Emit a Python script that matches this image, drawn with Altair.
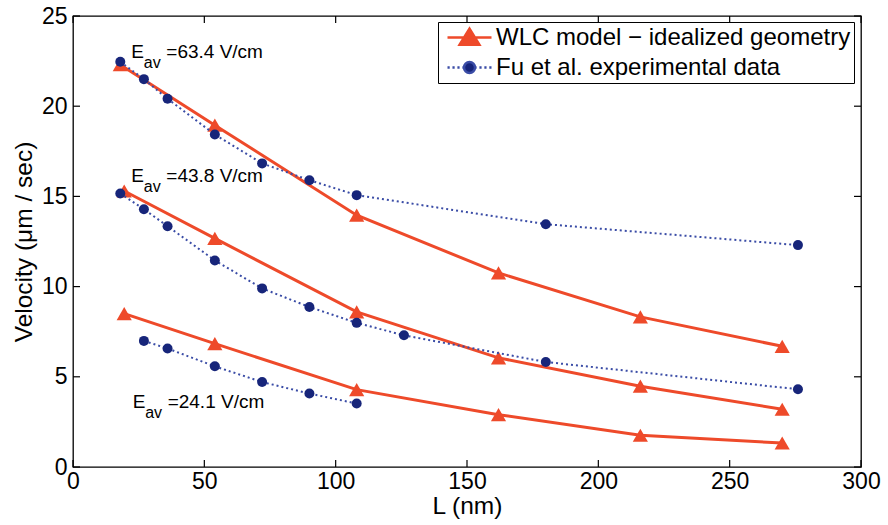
import altair as alt
import pandas as pd

# ---------------- data ----------------
series_model = "WLC model − idealized geometry"
series_exp = "Fu et al. experimental data"

# WLC model (red triangles)
L_model_634 = [18, 54, 108, 162, 216, 270]
v_model_634 = [22.3, 18.95, 13.96, 10.76, 8.32, 6.69]
L_model_438 = [19.5, 54, 108, 162, 216, 270]
v_model_438 = [15.3, 12.67, 8.6, 6.05, 4.48, 3.2]
L_model_241 = [19.5, 54, 108, 162, 216, 270]
v_model_241 = [8.5, 6.84, 4.29, 2.9, 1.76, 1.33]

# Fu et al. experimental data (blue dots)
L_exp_634 = [18, 27, 36, 54, 72, 90, 108, 180, 276]
v_exp_634 = [22.46, 21.5, 20.41, 18.43, 16.83, 15.9, 15.07, 13.46, 12.3]
L_exp_438 = [18, 27, 36, 54, 72, 90, 108, 126, 180, 276]
v_exp_438 = [15.16, 14.29, 13.35, 11.45, 9.9, 8.87, 7.99, 7.3, 5.82, 4.31]
L_exp_241 = [27, 36, 54, 72, 90, 108]
v_exp_241 = [6.99, 6.57, 5.58, 4.71, 4.07, 3.52]

# annotations
ann_L = [22.2, 22.2, 22.7]
ann_v = [22.65, 15.81, 3.27]
ann_text = ["=63.4 V/cm", "=43.8 V/cm", "=24.1 V/cm"]

x_ticks = [0, 50, 100, 150, 200, 250, 300]
y_ticks = [0, 5, 10, 15, 20, 25]

RED = "#ee4a2a"
NAVY = "#17257a"
DOTBLUE = "#3a4ca6"

def frame(Ls, vs, group):
    return pd.DataFrame({"L": Ls, "v": vs, "group": group})

model = pd.concat([
    frame(L_model_634, v_model_634, "63.4"),
    frame(L_model_438, v_model_438, "43.8"),
    frame(L_model_241, v_model_241, "24.1"),
])
exp = pd.concat([
    frame(L_exp_634, v_exp_634, "63.4"),
    frame(L_exp_438, v_exp_438, "43.8"),
    frame(L_exp_241, v_exp_241, "24.1"),
])
ann = pd.DataFrame({"L": ann_L, "v": ann_v, "text": ann_text,
                    "E": ["E"] * 3, "sub": ["av"] * 3})
legend_df = pd.DataFrame({"L": [0, 0], "v": [0, 0], "series": [series_model, series_exp]})
xt = pd.DataFrame({"L": x_ticks})
yt = pd.DataFrame({"v": y_ticks})

W, H = 788, 451
xscale = alt.Scale(domain=[0, 300], nice=False, zero=False)
yscale = alt.Scale(domain=[0, 25], nice=False, zero=False)

X = alt.X("L:Q", scale=xscale, title="L (nm)", axis=alt.Axis(values=x_ticks))
Y = alt.Y("v:Q", scale=yscale, title="Velocity (μm / sec)", axis=alt.Axis(values=y_ticks))

red_line = alt.Chart(model).mark_line(color=RED, strokeWidth=3).encode(
    x=X, y=Y, detail="group:N")
red_pts = alt.Chart(model).mark_point(shape="triangle-up", filled=True, size=230,
                                      color=RED, opacity=1).encode(x=X, y=Y)
blue_line = alt.Chart(exp).mark_line(color=DOTBLUE, strokeWidth=2, strokeDash=[2, 3]).encode(
    x=X, y=Y, detail="group:N")
blue_pts = alt.Chart(exp).mark_point(shape="circle", filled=True, size=100,
                                     color=NAVY, opacity=1).encode(x=X, y=Y)

red_path = "M-2,0H2M-0.9,0.65L0,-0.8L0.9,0.65Z"
blue_path = ("M-2,0H-1.8M-1.55,0H-1.35M-1.1,0H-0.9M-0.65,0H-0.45"
             "M0.45,0H0.65M0.9,0H1.1M1.35,0H1.55M1.8,0H2"
             "M0.5,0A0.5,0.5 0 1,1 -0.5,0A0.5,0.5 0 1,1 0.5,0Z")
dom = [series_model, series_exp]
legend = alt.Legend(title=None, orient="none", legendX=365, legendY=6,
                    strokeColor="black", fillColor="white", padding=3,
                    labelFont="Liberation Sans", labelFontSize=24, labelColor="black",
                    labelLimit=0,
                    symbolSize=484, symbolOffset=16, labelOffset=14,
                    symbolStrokeWidth=2.5, rowPadding=5, cornerRadius=0)
legend_layer = alt.Chart(legend_df).transform_filter("false").mark_point(
    filled=True, opacity=1).encode(
    x=X, y=Y,
    fill=alt.Fill("series:N", scale=alt.Scale(domain=dom, range=[RED, NAVY]), legend=legend),
    stroke=alt.Stroke("series:N", scale=alt.Scale(domain=dom, range=[RED, DOTBLUE]), legend=legend),
    shape=alt.Shape("series:N", scale=alt.Scale(domain=dom, range=[red_path, blue_path]), legend=legend),
)

txt_E = alt.Chart(ann).mark_text(align="left", baseline="alphabetic", font="Liberation Sans",
                                 fontSize=19, color="black").encode(x=X, y=Y, text="E:N")
txt_sub = alt.Chart(ann).mark_text(align="left", baseline="alphabetic", font="Liberation Sans",
                                   fontSize=16, color="black", dx=12.5, dy=10).encode(x=X, y=Y, text="sub:N")
txt_main = alt.Chart(ann).mark_text(align="left", baseline="alphabetic", font="Liberation Sans",
                                    fontSize=19, color="black", dx=35).encode(x=X, y=Y, text="text:N")

tick_style = dict(color="black", strokeWidth=1.2)
tb = alt.Chart(xt).mark_rule(**tick_style).encode(
    x=X, y=alt.value(H), y2=alt.value(H - 7))
tt = alt.Chart(xt).mark_rule(**tick_style).encode(
    x=X, y=alt.value(0), y2=alt.value(7))
tl = alt.Chart(yt).mark_rule(**tick_style).encode(
    y=Y, x=alt.value(0), x2=alt.value(7))
tr = alt.Chart(yt).mark_rule(**tick_style).encode(
    y=Y, x=alt.value(W), x2=alt.value(W - 7))

chart = alt.layer(
    red_line, red_pts, blue_line, blue_pts, legend_layer,
    txt_E, txt_sub, txt_main,
    tb, tt, tl, tr,
).properties(
    width=W, height=H,
    autosize=alt.AutoSizeParams(type="none"),
    padding={"left": 73, "top": 16, "right": 27, "bottom": 58},
    background="white",
).configure_view(
    stroke="black", strokeWidth=1.3
).configure_axis(
    domain=False, ticks=False, grid=False, labelFlush=False, labelOverlap=False,
    labelFont="Liberation Sans", labelFontSize=23, labelColor="black",
    titleFont="Liberation Sans", titleFontSize=24.5, titleFontWeight="normal", titleColor="black",
).configure_axisX(
    labelPadding=3, titlePadding=1
).configure_axisY(
    labelPadding=6, titlePadding=5
)

chart.save("out.html", embed_options={"renderer": "svg", "actions": False})
